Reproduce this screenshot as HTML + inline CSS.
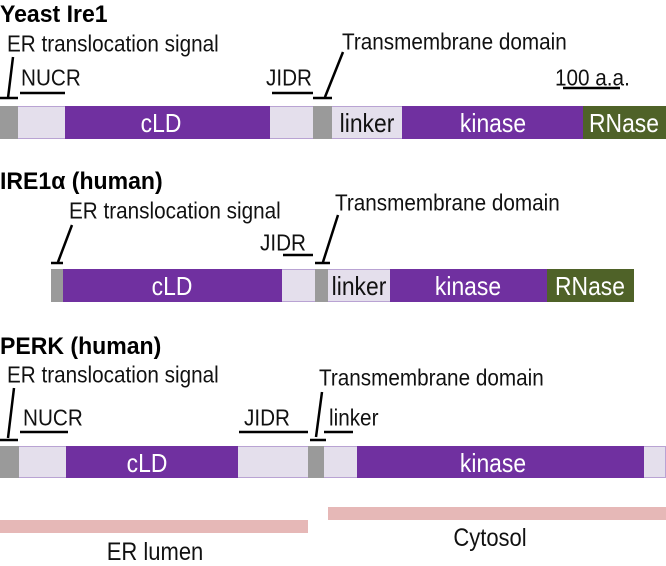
<!DOCTYPE html>
<html><head><meta charset="utf-8"><style>
body{margin:0;width:666px;height:559px;overflow:hidden;background:#fff;font-family:"Liberation Sans",Arial,sans-serif;position:relative}
.t{position:absolute;font-size:23px;line-height:23px;color:#111;white-space:nowrap;transform-origin:0 50%;transform:translateY(-50%) scaleX(0.9)}
.h{position:absolute;font-size:24px;font-weight:bold;line-height:24px;transform-origin:0 50%;transform:translateY(-50%) scaleX(0.96);white-space:nowrap}
.s{position:absolute;box-sizing:border-box}
.p{background:#7030a0}.l{background:#e4dfec;border-top:1px solid #b9a3d3;border-bottom:1px solid #b9a3d3}.g{background:#9a9a9a}.r{background:#4f6228}
.w{position:absolute;color:#fff;font-size:26px;line-height:26px;transform:translate(-50%,-50%) scaleX(0.88);white-space:nowrap}
.k{position:absolute;color:#111;font-size:26px;line-height:26px;transform:translate(-50%,-50%) scaleX(0.88);white-space:nowrap}
svg{position:absolute;left:0;top:0}
</style></head><body>
<div class="h" style="left:0;top:15px">Yeast Ire1</div>
<div class="t" style="left:7px;top:44px">ER translocation signal</div>
<div class="t" style="left:342px;top:42px">Transmembrane domain</div>
<div class="t" style="left:21px;top:78px">NUCR</div>
<div class="t" style="left:266px;top:78px">JIDR</div>
<div class="t" style="left:555px;top:78px">100 a.a.</div>
<div class="s g" style="left:0;top:106px;width:18px;height:33px"></div>
<div class="s l" style="left:18px;top:106px;width:47px;height:33px"></div>
<div class="s p" style="left:65px;top:106px;width:205px;height:33px"></div>
<div class="s l" style="left:270px;top:106px;width:43px;height:33px"></div>
<div class="s g" style="left:313px;top:106px;width:19px;height:33px"></div>
<div class="s l" style="left:332px;top:106px;width:70px;height:33px"></div>
<div class="s p" style="left:402px;top:106px;width:181px;height:33px"></div>
<div class="s r" style="left:583px;top:106px;width:83px;height:33px"></div>
<div class="w" style="left:161px;top:123px">cLD</div>
<div class="k" style="left:367px;top:123px">linker</div>
<div class="w" style="left:493px;top:123px">kinase</div>
<div class="w" style="left:624px;top:123px">RNase</div>

<div class="h" style="left:0;top:182px">IRE1α (human)</div>
<div class="t" style="left:69px;top:211px">ER translocation signal</div>
<div class="t" style="left:335px;top:203px">Transmembrane domain</div>
<div class="t" style="left:260px;top:243px">JIDR</div>
<div class="s g" style="left:51px;top:269px;width:12px;height:33px"></div>
<div class="s p" style="left:63px;top:269px;width:219px;height:33px"></div>
<div class="s l" style="left:282px;top:269px;width:33px;height:33px"></div>
<div class="s g" style="left:315px;top:269px;width:13px;height:33px"></div>
<div class="s l" style="left:328px;top:269px;width:62px;height:33px"></div>
<div class="s p" style="left:390px;top:269px;width:157px;height:33px"></div>
<div class="s r" style="left:547px;top:269px;width:87px;height:33px"></div>
<div class="w" style="left:172px;top:286px">cLD</div>
<div class="k" style="left:359px;top:286px">linker</div>
<div class="w" style="left:468px;top:286px">kinase</div>
<div class="w" style="left:590px;top:286px">RNase</div>

<div class="h" style="left:0;top:347px">PERK (human)</div>
<div class="t" style="left:7px;top:375px">ER translocation signal</div>
<div class="t" style="left:319px;top:378px">Transmembrane domain</div>
<div class="t" style="left:23px;top:418px">NUCR</div>
<div class="t" style="left:244px;top:418px">JIDR</div>
<div class="t" style="left:329px;top:418px">linker</div>
<div class="s g" style="left:0;top:446px;width:19px;height:32px"></div>
<div class="s l" style="left:19px;top:446px;width:47px;height:32px"></div>
<div class="s p" style="left:66px;top:446px;width:172px;height:32px"></div>
<div class="s l" style="left:238px;top:446px;width:70px;height:32px"></div>
<div class="s g" style="left:308px;top:446px;width:16px;height:32px"></div>
<div class="s l" style="left:324px;top:446px;width:33px;height:32px"></div>
<div class="s p" style="left:357px;top:446px;width:287px;height:32px"></div>
<div class="s l" style="left:644px;top:446px;width:22px;height:32px;border-right:1px solid #b9a3d3"></div>
<div class="w" style="left:147px;top:463px">cLD</div>
<div class="w" style="left:493px;top:463px">kinase</div>

<div class="s" style="left:0;top:520px;width:308px;height:13px;background:#e6b8b7"></div>
<div class="s" style="left:328px;top:507px;width:338px;height:13px;background:#e6b8b7"></div>
<div class="k" style="left:490px;top:538px;font-size:25px">Cytosol</div>
<div class="k" style="left:155px;top:552px;font-size:25px">ER lumen</div>

<svg width="666" height="559" stroke="#000" stroke-width="2.5" fill="none">
<path d="M13 57 L8 98 M0 98 H18"/>
<path d="M20 93 H65 M272 93 H313 M563 88 H620"/>
<path d="M343 52 L325 97 M313 98 H332"/>
<path d="M72 225 L58 262 M51 263 H63"/>
<path d="M338 215 L323 262 M315 263 H330 M283 255 H313"/>
<path d="M14 388 L8 438 M0 440 H18"/>
<path d="M20 432 H68 M239 432 H308 M324 432 H353"/>
<path d="M322 392 L316 437 M310 440 H326"/>
</svg>
</body></html>
